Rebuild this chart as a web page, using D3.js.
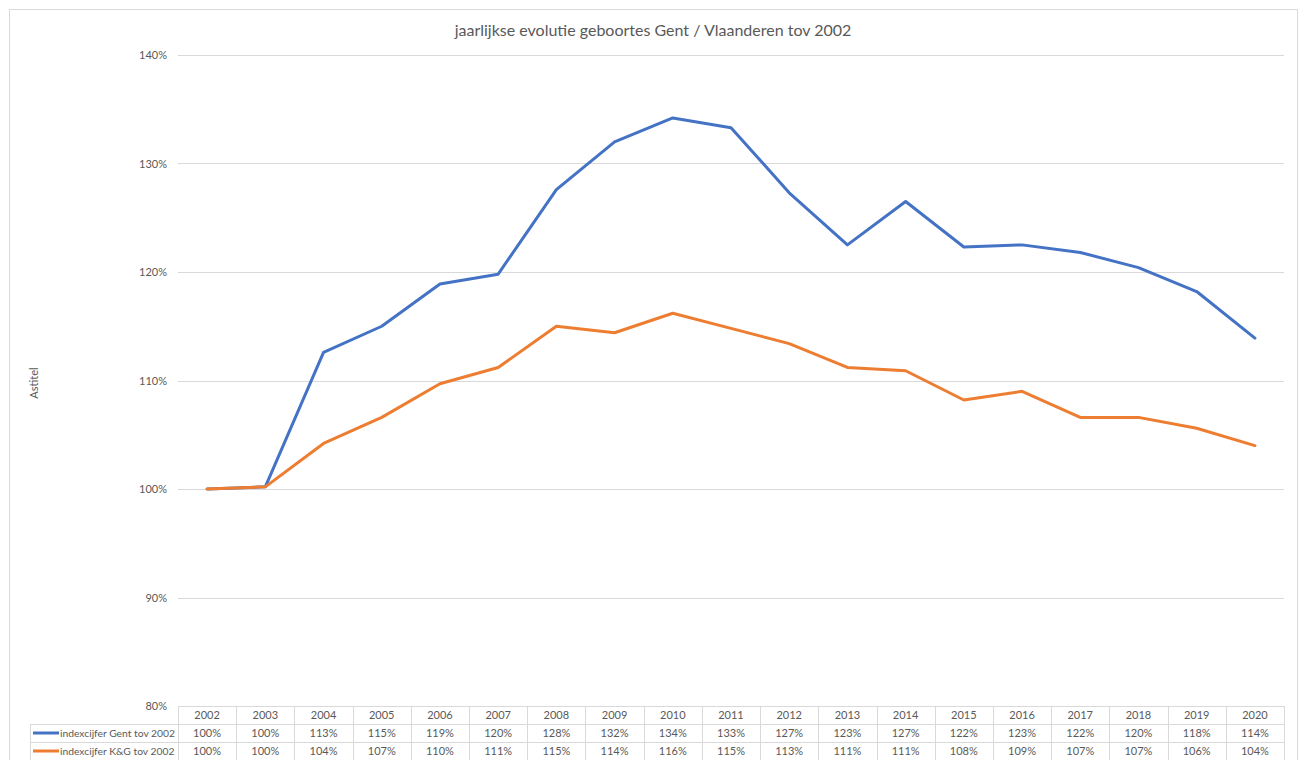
<!DOCTYPE html>
<html>
<head>
<meta charset="utf-8">
<script src="https://cdn.jsdelivr.net/npm/d3@7"></script>
<style>
  html, body { margin: 0; padding: 0; background: #fff; }
  svg { display: block; }
  text { font-family: Lato, "Open Sans", "Liberation Sans", sans-serif; fill: #595959; }
</style>
</head>
<body>
<svg id="chart" width="1300" height="760"></svg>
<script>
const years = ["2002","2003","2004","2005","2006","2007","2008","2009","2010","2011","2012","2013","2014","2015","2016","2017","2018","2019","2020"];
const gentValues = [100, 100.2, 112.6, 115.0, 118.9, 119.8, 127.6, 132.0, 134.2, 133.3, 127.3, 122.5, 126.5, 122.3, 122.5, 121.8, 120.4, 118.2, 113.9];
const kgValues   = [100, 100.2, 104.2, 106.6, 109.7, 111.2, 115.0, 114.4, 116.2, 114.8, 113.4, 111.2, 110.9, 108.2, 109.0, 106.6, 106.6, 105.6, 104.0];
const seriesNames = ["indexcijfer Gent tov 2002", "indexcijfer K&G tov 2002"];
const seriesColors = ["#4472C4", "#ED7D31"];
const yTicks = [80, 90, 100, 110, 120, 130, 140];
const chartTitle = "jaarlijkse evolutie geboortes Gent / Vlaanderen tov 2002";
const yAxisTitle = "Astitel";

const series = [gentValues, kgValues];
const svg = d3.select("#chart");

// outer chart border
svg.append("rect").attr("x", 9.5).attr("y", 9.5).attr("width", 1288).attr("height", 760)
  .attr("fill", "none").attr("stroke", "#d9d9d9");

const pLeft = 178, pRight = 1284, pTop = 55, pBottom = 706;
const x = d3.scaleBand().domain(years).range([pLeft, pRight]).padding(0);
const y = d3.scaleLinear().domain([80, 140]).range([pBottom, pTop]);

// gridlines
svg.append("g").selectAll("line").data(yTicks).join("line")
  .attr("x1", pLeft).attr("x2", pRight)
  .attr("y1", d => Math.round(y(d)) + 0.5).attr("y2", d => Math.round(y(d)) + 0.5)
  .attr("stroke", "#d9d9d9").attr("stroke-width", 1);

// y axis labels
const yAxis = d3.axisLeft(y).tickValues(yTicks).tickFormat(d => d + "%").tickSize(0).tickPadding(11);
const yg = svg.append("g").attr("transform", `translate(${pLeft},0)`).call(yAxis);
yg.select(".domain").remove();
yg.selectAll("text").style("font-size", "11px").style("fill", "#595959")
  .style("font-family", "Lato, 'Open Sans', sans-serif");

// title
svg.append("text").attr("x", 653).attr("y", 36).attr("text-anchor", "middle")
  .style("font-size", "16px").text(chartTitle);

// y axis title
svg.append("text").attr("transform", "translate(38,383) rotate(-90)")
  .attr("text-anchor", "middle").style("font-size", "11px").text(yAxisTitle);

// lines
const line = d3.line().x((d, i) => x(years[i]) + x.bandwidth() / 2).y(d => y(d));
series.forEach((vals, si) => {
  svg.append("path").datum(vals).attr("d", line)
    .attr("fill", "none").attr("stroke", seriesColors[si]).attr("stroke-width", 3)
    .attr("stroke-linejoin", "round").attr("stroke-linecap", "round");
});

// data table
const rowH = 18;
const tableTop = pBottom;
const tableLeft = 30;
const grid = svg.append("g").attr("stroke", "#d9d9d9").attr("stroke-width", 1).attr("fill", "none");
[0, 1, 2, 3].forEach(r => {
  const yy = tableTop + r * rowH + 0.5;
  grid.append("line").attr("x1", r === 0 ? pLeft : tableLeft).attr("x2", pRight).attr("y1", yy).attr("y2", yy);
});
grid.append("line").attr("x1", tableLeft + 0.5).attr("x2", tableLeft + 0.5).attr("y1", tableTop + rowH).attr("y2", tableTop + 3 * rowH);
years.forEach(yr => {
  const xx = Math.round(x(yr)) + 0.5;
  grid.append("line").attr("x1", xx).attr("x2", xx).attr("y1", tableTop).attr("y2", tableTop + 3 * rowH);
});
grid.append("line").attr("x1", pRight + 0.5).attr("x2", pRight + 0.5).attr("y1", tableTop).attr("y2", tableTop + 3 * rowH);

// header years
svg.append("g").selectAll("text").data(years).join("text")
  .attr("x", d => x(d) + x.bandwidth() / 2).attr("y", tableTop + 13)
  .attr("text-anchor", "middle").style("font-size", "11px").text(d => d);

// rows
series.forEach((vals, si) => {
  const ry = tableTop + (si + 1) * rowH;
  svg.append("line").attr("x1", 33).attr("x2", 59).attr("y1", ry + 9).attr("y2", ry + 9)
    .attr("stroke", seriesColors[si]).attr("stroke-width", 3);
  svg.append("text").attr("x", 60).attr("y", ry + 13).style("font-size", "10.3px").text(seriesNames[si]);
  svg.append("g").selectAll("text").data(vals).join("text")
    .attr("x", (d, i) => x(years[i]) + x.bandwidth() / 2).attr("y", ry + 13)
    .attr("text-anchor", "middle").style("font-size", "11px")
    .text(d => Math.round(d) + "%");
});
</script>
</body>
</html>
